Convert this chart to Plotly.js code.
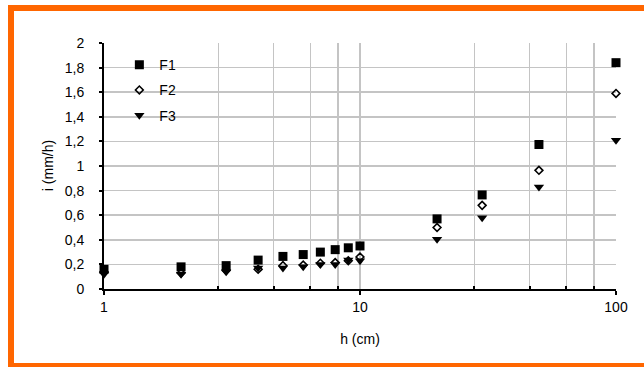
<!DOCTYPE html>
<html>
<head>
<meta charset="utf-8">
<script src="https://cdn.plot.ly/plotly-3.0.1.min.js"></script>
<style>
  html, body { margin: 0; padding: 0; background: #ffffff; }
  #wrap { position: relative; width: 644px; height: 367px; overflow: hidden; }
  #chart { position: absolute; left: 0; top: 0; width: 644px; height: 367px; }
  .ob { position: absolute; background: #ff6600; z-index: 10; }
</style>
</head>
<body>
<div id="wrap">
  <div id="chart"></div>
  <div class="ob" style="left:8px; top:5px; width:636px; height:6px;"></div>
  <div class="ob" style="left:8px; top:5px; width:6px; height:362px;"></div>
  <div class="ob" style="left:8px; top:363px; width:636px; height:4px;"></div>
</div>
<script>
// Data
const hValues = [1, 2, 3, 4, 5, 6, 7, 8, 9, 10, 20, 30, 50, 100];
const F1 = [0.16, 0.18, 0.19, 0.235, 0.265, 0.28, 0.30, 0.32, 0.335, 0.35, 0.57, 0.765, 1.175, 1.84];
const F2 = [0.14, 0.13, 0.15, 0.16, 0.19, 0.195, 0.21, 0.215, 0.23, 0.26, 0.50, 0.68, 0.965, 1.59];
const F3 = [0.12, 0.12, 0.14, 0.17, 0.17, 0.18, 0.20, 0.20, 0.235, 0.23, 0.405, 0.58, 0.83, 1.21];
const seriesNames = ['F1', 'F2', 'F3'];
const xTickVals = [1, 10, 100];
const xTickText = ['1', '10', '100'];
const xMinorGrid = [2.8, 4.6, 6.4, 8.2, 28, 46, 64, 82];
const xTitle = 'h (cm)';
const yTitle = 'i (mm/h)';

const FONT = 'Liberation Sans, Arial, sans-serif';

const traces = [
  {
    x: hValues, y: F1, name: seriesNames[0], type: 'scatter', mode: 'markers',
    legendgroup: 'g1', cliponaxis: false,
    marker: { symbol: 'square', size: 9, color: '#000000' }
  },
  {
    x: hValues, y: F2, name: seriesNames[1], type: 'scatter', mode: 'markers',
    legendgroup: 'g2', cliponaxis: false,
    marker: { symbol: 'diamond-open', size: 6, color: '#000000', line: { width: 1.6, color: '#000000' } }
  },
  {
    x: hValues, y: F3, name: seriesNames[2], type: 'scatter', mode: 'markers',
    legendgroup: 'g3', cliponaxis: false,
    marker: { symbol: 'triangle-down', size: 9, color: '#000000' }
  }
];

const layout = {
  width: 644, height: 367,
  margin: { l: 104, r: 28, t: 43, b: 78 },
  paper_bgcolor: '#ffffff', plot_bgcolor: '#ffffff',
  separators: ',.',
  font: { family: FONT, size: 14, color: '#000000' },
  showlegend: true,
  legend: {
    x: 0.03, y: 0.975, xanchor: 'left', yanchor: 'top',
    bgcolor: 'rgba(255,255,255,0)', borderwidth: 0,
    font: { family: FONT, size: 14, color: '#000000' },
    traceorder: 'grouped', tracegroupgap: 4,
    itemwidth: 30
  },
  xaxis: {
    type: 'log', range: [0, 2],
    tickmode: 'array', tickvals: xTickVals, ticktext: xTickText,
    ticks: 'outside', ticklen: 4, tickwidth: 2, tickcolor: '#000000',
    showline: true, linecolor: '#000000', linewidth: 2,
    showgrid: true, gridcolor: '#c4c4c4', gridwidth: 1.5,
    zeroline: false,
    tickfont: { family: FONT, size: 14, color: '#000000' },
    minor: {
      tickmode: 'array', tickvals: xMinorGrid,
      ticks: 'inside', ticklen: 3, tickwidth: 2, tickcolor: '#000000',
      showgrid: true, gridcolor: '#c4c4c4', gridwidth: 1.5
    },
    title: { text: xTitle, font: { family: FONT, size: 14, color: '#000000' }, standoff: 20 }
  },
  yaxis: {
    range: [0, 2], dtick: 0.2, tick0: 0,
    ticks: 'outside', ticklen: 3, tickwidth: 2, tickcolor: '#000000',
    ticklabelstandoff: 12,
    showline: true, linecolor: '#000000', linewidth: 2,
    showgrid: true, gridcolor: '#c4c4c4', gridwidth: 1.5,
    zeroline: false,
    tickfont: { family: FONT, size: 14, color: '#000000' }
  },
  annotations: [
    {
      text: yTitle, textangle: -90, showarrow: false,
      xref: 'paper', yref: 'paper', x: -0.109, y: 0.5,
      xanchor: 'center', yanchor: 'middle',
      font: { family: FONT, size: 14, color: '#000000' }
    }
  ]
};

Plotly.newPlot('chart', traces, layout, { displayModeBar: false, staticPlot: true });
</script>
</body>
</html>
